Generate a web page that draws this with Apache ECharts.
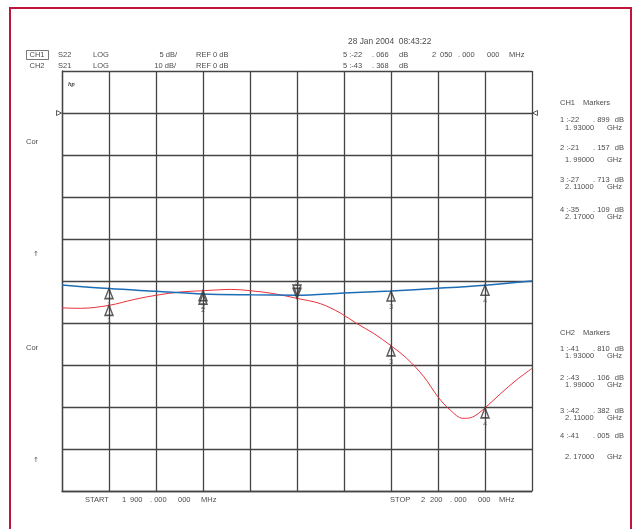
<!DOCTYPE html>
<html><head><meta charset="utf-8">
<script src="https://cdn.jsdelivr.net/npm/echarts@6/dist/echarts.min.js"></script>
<style>html,body{margin:0;padding:0;background:#fff}#c{width:637px;height:529px}</style>
</head><body><div id="c"></div>
<script>
// ---- data ----
const freqStartMHz = 1900, freqStopMHz = 2200, freqStepMHz = 30;
// CH1 : S22, LOG 5 dB/div, REF 0 dB  (red trace)
const ch1Freq = [1900,1912,1930,1946,1960,1976,1990,2000,2008,2020,2035,2050,2065,2078,2088,2099,2110,2120,2131,2140,2148,2156,2162,2170,2180,2190,2200];
const ch1dB   = [-23.2,-23.25,-22.9,-22.2,-21.7,-21.3,-21.16,-21.05,-21.0,-21.15,-21.5,-22.07,-22.7,-23.85,-25.05,-26.25,-27.71,-29.2,-31.4,-33.8,-35.4,-36.35,-36.2,-35.11,-33.4,-31.8,-30.4];
// CH2 : S21, LOG 10 dB/div, REF 0 dB  (blue trace)
const ch2Freq = [1900,1930,1960,1990,2020,2050,2080,2110,2140,2170,2200];
const ch2dB   = [-40.95,-41.81,-42.46,-43.11,-43.3,-43.37,-42.85,-42.38,-41.74,-41.0,-40.0];
// markers
const markerFreq = [1930,1990,2110,2170];
const ch1Markers = [-22.899,-21.157,-27.713,-35.109];
const ch2Markers = [-41.810,-43.106,-42.382,-41.005];
const activeFreq = 2050, ch1Active = -22.066, ch2Active = -43.368;
const ch1Scale = {min:-45, max:5, step:5};
const ch2Scale = {min:-90, max:10, step:10};

// ---- helpers ----
const FONT = '7.5px "Liberation Sans", Arial, sans-serif';
const GRAY = '#4d4d4d';
function T(text, x, y, align, font) {
  align = align || 'left';
  return {type:'text', x:x, y:y, silent:true, z:10,
    style:{text:text, font:font||FONT, fill:GRAY, align:align, textAlign:align, verticalAlign:'middle', textVerticalAlign:'middle'}};
}
function splitVal(v){
  const s = Math.abs(v).toFixed(3).split('.');
  return [(v<0?'-':'')+s[0], '. '+s[1]];
}
function ghz(f){ const s=(f/1000).toFixed(5).split('.'); return s[0]+'. '+s[1]; }
function mhzParts(f){ // 2050 -> ["2","050",". 000","000"]
  const s = String(f);
  return [s[0], s.slice(1), '. 000', '000'];
}

const g = [];
// red frame
g.push({type:'rect', silent:true, shape:{x:10,y:8,width:621,height:540}, style:{fill:'none', stroke:'#c0143c', lineWidth:2}});
// header
g.push(T('28 Jan 2004  08:43:22', 348, 41.5, 'left', '8.4px "Liberation Sans", Arial, sans-serif'));
g.push({type:'rect', silent:true, shape:{x:26.5,y:50.5,width:22,height:9}, style:{fill:'none', stroke:'#555', lineWidth:0.8}});
g.push(T('CH1', 29.5, 55)); g.push(T('CH2', 29.5, 66));
g.push(T('S22', 58, 55)); g.push(T('S21', 58, 66));
g.push(T('LOG', 93, 55)); g.push(T('LOG', 93, 66));
g.push(T(ch1Scale.step+' dB/', 177, 55, 'right')); g.push(T(ch2Scale.step+' dB/', 176, 66, 'right'));
g.push(T('REF 0 dB', 196, 55)); g.push(T('REF 0 dB', 196, 66));
const a1 = splitVal(ch1Active), a2 = splitVal(ch2Active);
g.push(T('5 :'+a1[0], 343, 55)); g.push(T(a1[1], 372, 55)); g.push(T('dB', 399, 55));
g.push(T('5 :'+a2[0], 343, 66)); g.push(T(a2[1], 372, 66)); g.push(T('dB', 399, 66));
const mp = mhzParts(activeFreq);
g.push(T(mp[0], 432, 55)); g.push(T(mp[1], 440, 55)); g.push(T(mp[2], 458, 55)); g.push(T(mp[3], 487, 55)); g.push(T('MHz', 509, 55));
// logo
g.push(T('hp', 68, 84.5, 'left', 'italic bold 6.5px "Liberation Serif", serif'));
// left annotations
g.push(T('Cor', 26, 142)); g.push(T('Cor', 26, 348));
g.push(T('\u2191', 33, 254, 'left', '7px "DejaVu Sans", sans-serif')); g.push(T('\u2191', 33, 460, 'left', '7px "DejaVu Sans", sans-serif'));
// right marker panels
function panel(title, vals, y0, ys){
  g.push(T(title, 560, y0)); g.push(T('Markers', 583, y0));
  vals.forEach((v,i)=>{
    const p = splitVal(v);
    g.push(T((i+1)+' :'+p[0], 560, ys[i][0])); g.push(T(p[1], 593, ys[i][0])); g.push(T('dB', 624, ys[i][0], 'right'));
    g.push(T(ghz(markerFreq[i]), 565, ys[i][1])); g.push(T('GHz', 622, ys[i][1], 'right'));
  });
}
panel('CH1', ch1Markers, 103, [[120,127.5],[148,160],[180,187],[210,217]]);
panel('CH2', ch2Markers, 332.5, [[349,356],[378,385],[410.5,417.5],[436,456.5]]);
// bottom
const sp = mhzParts(freqStartMHz), ep = mhzParts(freqStopMHz);
g.push(T('START', 85, 499.5)); g.push(T(sp[0], 122, 499.5)); g.push(T(sp[1], 130, 499.5)); g.push(T(sp[2], 150, 499.5)); g.push(T(sp[3], 178, 499.5)); g.push(T('MHz', 201, 499.5));
g.push(T('STOP', 390, 499.5)); g.push(T(ep[0], 421, 499.5)); g.push(T(ep[1], 430, 499.5)); g.push(T(ep[2], 450, 499.5)); g.push(T(ep[3], 478, 499.5)); g.push(T('MHz', 499, 499.5));

const gridLine = {color:'#444', width:1.3};
const UP = 'triangle';
const DOWN = 'path://M0,0 L10,0 L5,10 Z';
const markerStyle = {color:'rgba(0,0,0,0)', borderColor:'#333', borderWidth:1.5};
const labelStyle = {show:true, fontSize:7.5, color:GRAY, fontFamily:'Liberation Sans', distance:1};

const chart = echarts.init(document.getElementById('c'), null, {renderer:'canvas'});
chart.setOption({
  animation:false,
  backgroundColor:'#fff',
  grid:{left:62, top:71, width:470, height:420, containLabel:false},
  xAxis:{type:'value', min:freqStartMHz, max:freqStopMHz, interval:freqStepMHz,
    axisLabel:{show:false}, axisTick:{show:false},
    axisLine:{show:true, onZero:false, lineStyle:gridLine}, splitLine:{show:true, lineStyle:gridLine}},
  yAxis:[
    {type:'value', min:ch1Scale.min, max:ch1Scale.max, interval:ch1Scale.step,
      axisLabel:{show:false}, axisTick:{show:false},
      axisLine:{show:true, onZero:false, lineStyle:gridLine}, splitLine:{show:true, lineStyle:gridLine}},
    {type:'value', min:ch2Scale.min, max:ch2Scale.max, interval:ch2Scale.step, show:false, splitLine:{show:false}}
  ],
  series:[
    {type:'line', yAxisIndex:0, data:ch1Freq.map((f,i)=>[f,ch1dB[i]]), showSymbol:false, smooth:0.35,
      lineStyle:{color:'#e8323c', width:1}, z:3},
    {type:'line', yAxisIndex:1, data:ch2Freq.map((f,i)=>[f,ch2dB[i]]), showSymbol:false, smooth:0.35,
      lineStyle:{color:'#1c6db5', width:1.5}, z:3},
    {type:'scatter', yAxisIndex:1, clip:false, data:markerFreq.map((f,i)=>[f,ch2Markers[i]]),
      symbol:UP, symbolSize:[8,10], symbolOffset:[0,'50%'], itemStyle:markerStyle,
      label:Object.assign({position:'bottom', formatter:p=>String(p.dataIndex+1)}, labelStyle), z:5},
    {type:'scatter', yAxisIndex:0, clip:false, data:markerFreq.map((f,i)=>[f,ch1Markers[i]]),
      symbol:UP, symbolSize:[8,10], symbolOffset:[0,'50%'], itemStyle:markerStyle,
      label:Object.assign({position:'bottom', formatter:p=>String(p.dataIndex+1)}, labelStyle), z:5},
    {type:'scatter', yAxisIndex:1, clip:false, data:[[activeFreq, ch2Active]],
      symbol:DOWN, symbolSize:[8,10], symbolOffset:[0,'-50%'], itemStyle:markerStyle, label:{show:false}, z:5},
    {type:'scatter', yAxisIndex:0, clip:false, data:[[activeFreq, ch1Active]],
      symbol:DOWN, symbolSize:[8,10], symbolOffset:[0,'-50%'], itemStyle:markerStyle,
      label:Object.assign({position:'top', formatter:'5'}, labelStyle), z:5},
    {type:'scatter', yAxisIndex:0, clip:false, silent:true, z:5,
      data:[
        {value:[freqStartMHz,0], symbol:'path://M0,0 L10,5 L0,10 Z', symbolOffset:['-60%',0]},
        {value:[freqStopMHz,0], symbol:'path://M10,0 L0,5 L10,10 Z', symbolOffset:['60%',0]}
      ],
      symbolSize:[5,5], itemStyle:{color:'#fff', borderColor:'#333', borderWidth:1}}
  ],
  graphic:{elements:g}
});
</script></body></html>
